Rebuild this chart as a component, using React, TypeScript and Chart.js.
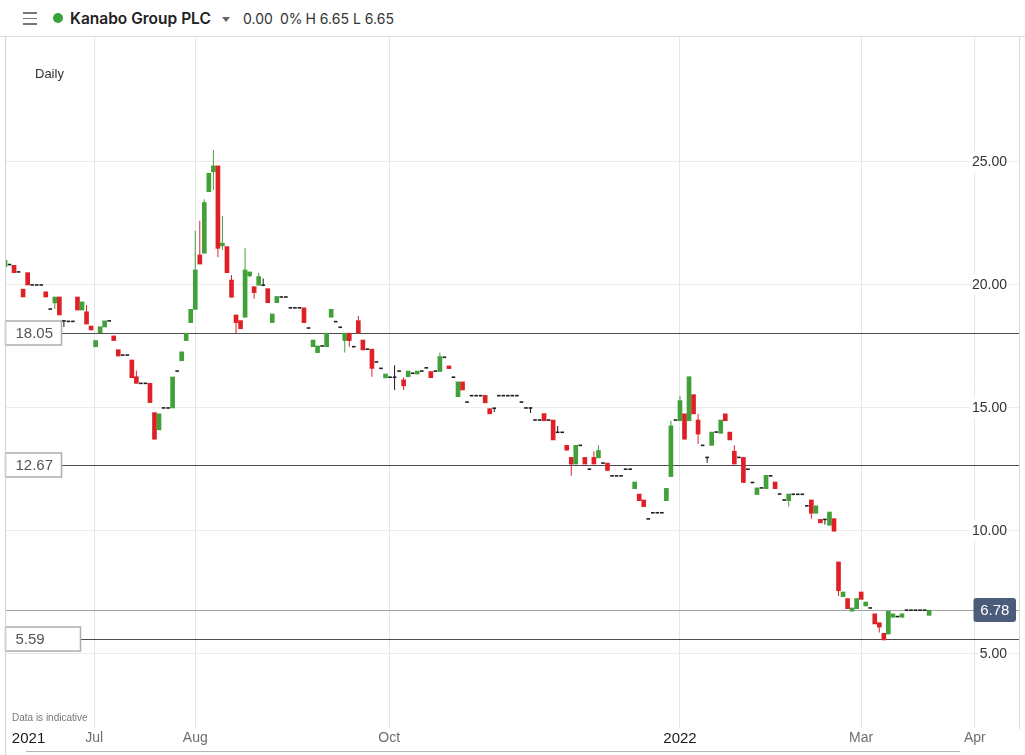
import React, { useEffect, useRef } from 'react';
import { Chart, registerables } from 'chart.js';

Chart.register(...registerables);

// Daily OHLC, one entry per trading day (index 0 = first visible session)
const openPrices = [
  20.75, 20.83, 20.8, 20.53, 19.83, 20.5, 20.0, 20.0, 20.0, 19.72,
  19.02, 19.27, 19.51, 18.54, 18.52, 18.52, 19.51, 18.98, 18.91, 18.33,
  17.49, 18.06, 18.29, 18.54, 17.93, 17.37, 17.15, 17.15, 16.95, 16.27,
  16.0, 16.0, 16.0, 14.81, 14.11, 15.0, 15.0, 15.0, 16.5, 16.92,
  17.74, 18.47, 19.01, 21.22, 21.29, 23.79, 24.6, 24.84, 21.59, 21.56,
  20.2, 18.78, 18.55, 18.69, 20.37, 19.93, 19.99, 19.99, 19.85, 18.47,
  19.28, 19.51, 19.51, 19.07, 19.07, 19.07, 19.07, 18.25, 17.49, 17.25,
  17.52, 17.49, 18.69, 18.51, 18.28, 17.74, 18.04, 17.49, 18.55, 17.76,
  17.39, 17.39, 16.87, 16.61, 16.22, 16.25, 16.25, 16.5, 16.14, 16.27,
  16.41, 16.38, 16.5, 16.63, 16.48, 16.5, 16.48, 17.06, 16.71, 16.25,
  15.46, 16.06, 15.24, 15.5, 15.5, 15.5, 15.51, 14.97, 14.99, 15.5,
  15.5, 15.5, 15.5, 15.5, 15.24, 15.0, 15.0, 14.51, 14.51, 14.77,
  14.51, 14.51, 14.01, 14.01, 13.48, 12.99, 12.72, 13.48, 12.99, 12.51,
  12.99, 12.97, 12.76, 12.76, 12.24, 12.24, 12.24, 12.51, 12.51, 11.72,
  11.5, 11.26, 10.49, 10.74, 10.74, 10.74, 11.23, 12.21, 14.51, 14.48,
  14.76, 14.48, 15.54, 14.51, 13.48, 12.99, 13.48, 14.02, 13.97, 14.76,
  14.02, 13.24, 12.99, 12.99, 12.51, 11.97, 11.48, 11.75, 11.72, 12.24,
  11.99, 11.5, 11.26, 11.23, 11.49, 11.49, 11.49, 11.02, 11.26, 10.72,
  10.47, 10.47, 10.23, 10.5, 8.74, 7.33, 7.25, 6.74, 6.84, 7.52,
  6.95, 6.87, 6.63, 6.27, 5.84, 5.81, 6.49, 6.52, 6.49, 6.78,
  6.78, 6.78, 6.78, 6.78, 6.57,
];

const highPrices = [
  21.0, 20.83, 20.8, 20.53, 19.83, 20.5, 20.0, 20.0, 20.0, 19.72,
  19.02, 19.51, 19.51, 18.54, 18.52, 18.52, 19.51, 19.31, 19.19, 18.33,
  17.74, 18.3, 18.54, 18.54, 17.93, 17.37, 17.15, 17.15, 16.95, 16.52,
  16.0, 16.0, 16.0, 14.81, 14.76, 15.0, 15.0, 16.26, 16.5, 17.28,
  18.04, 19.01, 22.2, 22.61, 23.48, 24.54, 25.49, 24.84, 22.8, 21.56,
  20.41, 18.78, 18.55, 21.49, 20.53, 19.93, 20.5, 20.26, 19.85, 18.82,
  19.53, 19.51, 19.51, 19.07, 19.07, 19.07, 19.07, 18.25, 17.76, 17.52,
  17.52, 18.04, 19.01, 18.51, 18.28, 18.04, 18.04, 17.49, 18.74, 17.76,
  17.39, 17.39, 16.87, 16.61, 16.38, 16.25, 16.74, 16.5, 16.25, 16.5,
  16.41, 16.5, 16.5, 16.63, 16.48, 16.5, 17.25, 17.06, 16.71, 16.25,
  16.06, 16.06, 15.24, 15.5, 15.5, 15.5, 15.51, 14.97, 14.99, 15.5,
  15.5, 15.5, 15.5, 15.5, 15.24, 15.0, 15.0, 14.51, 14.51, 14.77,
  14.51, 14.51, 14.27, 14.01, 13.48, 12.99, 13.48, 13.48, 12.99, 12.51,
  13.24, 13.48, 12.76, 12.76, 12.24, 12.24, 12.24, 12.51, 12.51, 11.99,
  11.5, 11.26, 10.49, 10.74, 10.74, 10.74, 11.73, 14.48, 14.51, 15.49,
  14.76, 16.27, 15.54, 14.76, 13.48, 12.99, 14.02, 14.02, 14.51, 14.76,
  14.02, 13.48, 12.99, 12.99, 12.51, 11.97, 11.75, 11.75, 12.26, 12.24,
  11.99, 11.5, 11.26, 11.5, 11.49, 11.49, 11.49, 11.02, 11.26, 11.02,
  10.47, 10.47, 10.77, 10.5, 8.74, 7.52, 7.25, 6.87, 7.25, 7.52,
  7.11, 6.87, 6.63, 6.27, 5.84, 6.74, 6.63, 6.52, 6.63, 6.78,
  6.78, 6.78, 6.78, 6.78, 6.78,
];

const lowPrices = [
  20.75, 20.83, 20.5, 20.53, 19.51, 20.0, 20.0, 20.0, 20.0, 19.51,
  19.02, 19.02, 18.78, 18.29, 18.52, 18.52, 18.98, 18.98, 18.41, 18.17,
  17.49, 18.06, 18.29, 18.54, 17.74, 17.11, 17.15, 17.15, 16.23, 16.0,
  16.0, 16.0, 15.22, 13.73, 14.11, 15.0, 15.0, 15.0, 16.5, 16.92,
  17.74, 18.47, 19.01, 20.85, 21.29, 23.79, 23.86, 21.13, 21.42, 20.5,
  19.5, 18.04, 18.22, 18.69, 20.31, 19.44, 19.99, 19.99, 19.28, 18.47,
  19.28, 19.51, 19.51, 19.07, 19.07, 19.07, 18.47, 18.25, 17.49, 17.25,
  17.52, 17.49, 18.69, 18.51, 18.28, 17.25, 17.49, 17.49, 18.04, 17.36,
  17.39, 16.27, 16.87, 16.61, 16.22, 16.25, 15.73, 16.5, 15.73, 16.27,
  16.41, 16.38, 16.5, 16.63, 16.23, 16.5, 16.48, 17.06, 16.6, 16.25,
  15.46, 15.73, 15.24, 15.5, 15.5, 15.5, 15.21, 14.76, 14.84, 15.5,
  15.5, 15.5, 15.5, 15.5, 15.24, 15.0, 14.8, 14.51, 14.51, 14.48,
  14.51, 13.7, 14.01, 14.01, 13.25, 12.24, 12.72, 13.48, 12.72, 12.51,
  12.72, 12.97, 12.76, 12.46, 12.24, 12.24, 12.24, 12.51, 12.51, 11.72,
  11.23, 10.99, 10.49, 10.74, 10.74, 10.74, 11.23, 12.21, 14.51, 14.48,
  13.73, 14.48, 14.76, 13.54, 13.48, 12.76, 13.48, 14.02, 13.97, 14.48,
  13.7, 12.72, 12.99, 11.97, 12.51, 11.97, 11.48, 11.75, 11.72, 12.24,
  11.72, 11.5, 11.26, 10.99, 11.49, 11.49, 11.49, 11.02, 10.5, 10.72,
  10.33, 10.26, 10.23, 9.99, 7.36, 7.33, 6.84, 6.74, 6.84, 7.22,
  6.95, 6.87, 6.22, 5.87, 5.57, 5.81, 6.49, 6.52, 6.49, 6.78,
  6.78, 6.78, 6.78, 6.78, 6.57,
];

const closePrices = [
  21.0, 20.83, 20.5, 20.53, 19.51, 20.0, 20.0, 20.0, 20.0, 19.51,
  19.02, 19.51, 18.78, 18.54, 18.52, 18.52, 18.98, 19.31, 18.41, 18.17,
  17.74, 18.3, 18.54, 18.54, 17.74, 17.11, 17.15, 17.15, 16.23, 16.0,
  16.0, 16.0, 15.22, 13.73, 14.76, 15.0, 15.0, 16.26, 16.5, 17.28,
  18.04, 19.01, 20.61, 20.85, 23.35, 24.54, 24.84, 21.49, 21.7, 20.5,
  19.5, 18.47, 18.22, 20.61, 20.53, 19.69, 20.34, 19.99, 19.28, 18.82,
  19.53, 19.51, 19.51, 19.07, 19.07, 19.07, 18.47, 18.25, 17.76, 17.52,
  17.52, 18.04, 19.01, 18.51, 18.28, 18.04, 17.74, 17.49, 18.04, 17.36,
  17.39, 16.61, 16.87, 16.61, 16.38, 16.25, 16.25, 16.5, 15.9, 16.5,
  16.41, 16.5, 16.5, 16.63, 16.23, 16.5, 17.09, 17.06, 16.6, 16.25,
  16.06, 15.73, 15.24, 15.5, 15.5, 15.5, 15.21, 14.76, 14.99, 15.5,
  15.5, 15.5, 15.5, 15.5, 15.24, 15.0, 15.0, 14.51, 14.51, 14.48,
  14.51, 13.7, 14.01, 14.01, 13.29, 12.72, 13.48, 13.48, 12.72, 12.51,
  12.72, 13.27, 12.76, 12.46, 12.24, 12.24, 12.24, 12.51, 12.51, 11.99,
  11.23, 10.99, 10.49, 10.74, 10.74, 10.74, 11.73, 14.27, 14.51, 15.3,
  13.73, 16.27, 14.76, 13.94, 13.48, 12.99, 14.02, 14.02, 14.51, 14.48,
  13.7, 12.72, 12.99, 11.97, 12.51, 11.97, 11.75, 11.75, 12.26, 12.24,
  11.72, 11.5, 11.26, 11.5, 11.49, 11.49, 11.49, 11.02, 10.72, 11.02,
  10.33, 10.47, 10.77, 9.99, 7.57, 7.52, 6.84, 6.87, 7.25, 7.22,
  7.11, 6.87, 6.22, 6.09, 5.57, 6.74, 6.63, 6.52, 6.63, 6.78,
  6.78, 6.78, 6.78, 6.78, 6.78,
];

// X-axis labels and the trading-day index where each falls
const xTickLabels = ['2021', 'Jul', 'Aug', 'Oct', '2022', 'Mar', 'Apr'];
const xTickIndex = [5.2, 19.7, 42, 84.8, 149, 189, 214.1];
const xAxisEnd = 223.84;

const yTickValues = [5, 10, 15, 20, 25];
const yMin = 1.99;
const yMax = 30.08;

const levelLines = [18.05, 12.67, 5.59];
const lastPrice = 6.78;

const GREEN = '#41a03a';
const RED = '#de2126';
const FLAT = '#1c1c1c';

const FONT = '"Liberation Sans", Arial, sans-serif';

export default function App() {
  const canvasRef = useRef<HTMLCanvasElement | null>(null);

  useEffect(() => {
    if (!canvasRef.current) return;

    const wickData: any[] = [];
    const wickColors: string[] = [];
    const bodyData: any[] = [];
    const bodyColors: string[] = [];
    const flatData: any[] = [];

    openPrices.forEach((o, i) => {
      const c = closePrices[i];
      const h = highPrices[i];
      const l = lowPrices[i];
      const color = c > o ? GREEN : c < o ? RED : FLAT;
      if (h > l) {
        wickData.push({ x: i, y: [l, h] });
        wickColors.push(color);
      }
      if (c !== o) {
        bodyData.push({ x: i, y: [Math.min(o, c), Math.max(o, c)] });
        bodyColors.push(color);
      } else {
        flatData.push({ x: i, y: o });
      }
    });

    const overlay = {
      id: 'overlay',
      beforeDatasetsDraw(chart: any) {
        const { ctx, chartArea, scales } = chart;
        const y = scales.y;
        ctx.save();
        ctx.lineWidth = 1;
        levelLines.forEach((v) => {
          const py = Math.round(y.getPixelForValue(v)) + 0.5;
          ctx.strokeStyle = '#4d4d4d';
          ctx.beginPath();
          ctx.moveTo(chartArea.left, py);
          ctx.lineTo(chartArea.right, py);
          ctx.stroke();
        });
        const lp = Math.round(y.getPixelForValue(lastPrice)) + 0.5;
        ctx.strokeStyle = '#a3a3a3';
        ctx.beginPath();
        ctx.moveTo(chartArea.left, lp);
        ctx.lineTo(chartArea.right, lp);
        ctx.stroke();
        ctx.restore();
      },
      afterDraw(chart: any) {
        const { ctx, scales } = chart;
        const y = scales.y;
        ctx.save();
        // left level boxes
        const boxWidths = [56, 56, 75];
        levelLines.forEach((v, k) => {
          const py = Math.round(y.getPixelForValue(v));
          ctx.fillStyle = '#ffffff';
          ctx.fillRect(5.5, py - 12, boxWidths[k], 24);
          ctx.strokeStyle = '#adadad';
          ctx.lineWidth = 1.5;
          ctx.strokeRect(5.5, py - 12, boxWidths[k], 24);
          ctx.fillStyle = '#555555';
          ctx.font = '15px ' + FONT;
          ctx.textAlign = 'left';
          ctx.textBaseline = 'middle';
          ctx.fillText(v.toFixed(2), 15.5, py + 0.5);
        });
        // last price box
        const lp = Math.round(y.getPixelForValue(lastPrice));
        ctx.fillStyle = '#4b5b7a';
        ctx.beginPath();
        const bx = 973.5, by = lp - 12, bw = 42.5, bh = 24, r = 3;
        ctx.moveTo(bx + r, by);
        ctx.lineTo(bx + bw - r, by);
        ctx.quadraticCurveTo(bx + bw, by, bx + bw, by + r);
        ctx.lineTo(bx + bw, by + bh - r);
        ctx.quadraticCurveTo(bx + bw, by + bh, bx + bw - r, by + bh);
        ctx.lineTo(bx + r, by + bh);
        ctx.quadraticCurveTo(bx, by + bh, bx, by + bh - r);
        ctx.lineTo(bx, by + r);
        ctx.quadraticCurveTo(bx, by, bx + r, by);
        ctx.fill();
        ctx.fillStyle = '#ffffff';
        ctx.font = '15px ' + FONT;
        ctx.textAlign = 'center';
        ctx.textBaseline = 'middle';
        ctx.fillText(lastPrice.toFixed(2), bx + bw / 2, lp + 0.5);
        ctx.restore();
      },
    };

    const chart = new Chart(canvasRef.current, {
      type: 'bar',
      data: {
        datasets: [
          {
            type: 'line',
            data: flatData,
            showLine: false,
            pointStyle: 'line',
            pointRadius: 1.8,
            pointBorderWidth: 1.6,
            pointBorderColor: FLAT,
            pointBackgroundColor: FLAT,
            order: 1,
          } as any,
          {
            data: bodyData,
            backgroundColor: bodyColors,
            borderWidth: 0,
            barThickness: 4,
            grouped: false,
            order: 2,
          } as any,
          {
            data: wickData,
            backgroundColor: wickColors,
            borderWidth: 0,
            barThickness: 1,
            inflateAmount: 0,
            grouped: false,
            order: 3,
          } as any,
        ],
      },
      options: {
        responsive: false,
        animation: false,
        devicePixelRatio: 1,
        events: [],
        layout: { autoPadding: false, padding: { left: 5, right: 6, top: 0, bottom: 0 } },
        plugins: {
          legend: { display: false },
          tooltip: { enabled: false },
        },
        scales: {
          x: {
            type: 'linear',
            min: 0,
            max: xAxisEnd,
            bounds: 'data',
            offset: false,
            grid: {
              offset: false,
              drawTicks: false,
              color: (c: any) => (xTickLabels[c.index] === '2021' ? 'rgba(0,0,0,0)' : '#e6e6e6'),
            },
            border: { display: false },
            ticks: {
              autoSkip: false,
              maxRotation: 0,
              padding: 2,
              callback: (_v: any, i: number) => xTickLabels[i],
              color: (c: any) => (/^\d{4}$/.test(xTickLabels[c.index] || '') ? '#1a1a1a' : '#6e6e6e'),
              font: (c: any) =>
                /^\d{4}$/.test(xTickLabels[c.index] || '')
                  ? { family: FONT, size: 15 }
                  : { family: FONT, size: 14 },
            },
            afterBuildTicks: (s: any) => {
              s.ticks = xTickIndex.map((v) => ({ value: v }));
            },
            afterFit: (s: any) => {
              s.height = 27;
            },
          } as any,
          y: {
            type: 'linear',
            position: 'right',
            min: yMin,
            max: yMax,
            bounds: 'data',
            grid: { drawTicks: false, color: '#ececec' },
            border: { display: true, color: '#dadada' },
            ticks: {
              display: true,
              mirror: true,
              padding: -12,
              color: '#333333',
              font: { family: FONT, size: 14 },
              showLabelBackdrop: true,
              backdropColor: '#ffffff',
              backdropPadding: 2,
              callback: (v: any) => Number(v).toFixed(2),
            },
            afterBuildTicks: (s: any) => {
              s.ticks = yTickValues.map((v) => ({ value: v }));
            },
            afterFit: (s: any) => {
              s.width = 0;
            },
          } as any,
        },
      },
      plugins: [overlay],
    });

    return () => chart.destroy();
  }, []);

  const headerText: React.CSSProperties = {
    position: 'absolute',
    top: 9,
    lineHeight: '19px',
    fontFamily: 'Inter, "Open Sans", sans-serif',
    fontSize: 14,
    color: '#333',
    whiteSpace: 'nowrap',
  };

  return (
    <div
      style={{
        position: 'fixed',
        left: 0,
        top: 0,
        width: 1025,
        height: 755,
        background: '#ffffff',
        overflow: 'hidden',
      }}
    >
      {/* header */}
      <div style={{ position: 'absolute', left: 0, top: 36, width: 1025, height: 1, background: '#dedede' }} />
      {[12, 17.5, 23].map((t) => (
        <div key={t} style={{ position: 'absolute', left: 22.5, top: t, width: 14, height: 1.6, background: '#777' }} />
      ))}
      <div
        style={{
          position: 'absolute',
          left: 52.5,
          top: 13,
          width: 10,
          height: 10,
          borderRadius: '50%',
          background: '#3aa03a',
        }}
      />
      <div style={{ ...headerText, left: 70, fontSize: 15.5, fontWeight: 600, color: '#222' }}>Kanabo Group PLC</div>
      <div
        style={{
          position: 'absolute',
          left: 221.5,
          top: 16.5,
          width: 0,
          height: 0,
          borderLeft: '4.5px solid transparent',
          borderRight: '4.5px solid transparent',
          borderTop: '5px solid #666',
        }}
      />
      <div style={{ ...headerText, left: 243 }}>0.00</div>
      <div style={{ ...headerText, left: 280 }}>0%</div>
      <div style={{ ...headerText, left: 305.5 }}>H 6.65</div>
      <div style={{ ...headerText, left: 353 }}>L 6.65</div>

      <canvas
        ref={canvasRef}
        width={1025}
        height={718}
        style={{ position: 'absolute', left: 0, top: 37, width: 1025, height: 718 }}
      />

      <div style={{ position: 'absolute', left: 5, top: 37, width: 1, height: 718, background: '#d2d2d2' }} />
      <div
        style={{
          position: 'absolute',
          left: 35,
          top: 66,
          lineHeight: '16px',
          fontFamily: FONT,
          fontSize: 13,
          color: '#333',
        }}
      >
        Daily
      </div>
      <div
        style={{
          position: 'absolute',
          left: 12,
          top: 712,
          lineHeight: '12px',
          fontFamily: FONT,
          fontSize: 10,
          color: '#777',
        }}
      >
        Data is indicative
      </div>
      <div style={{ position: 'absolute', left: 26, top: 751, width: 934, height: 1, background: '#b5b5b5' }} />
    </div>
  );
}
